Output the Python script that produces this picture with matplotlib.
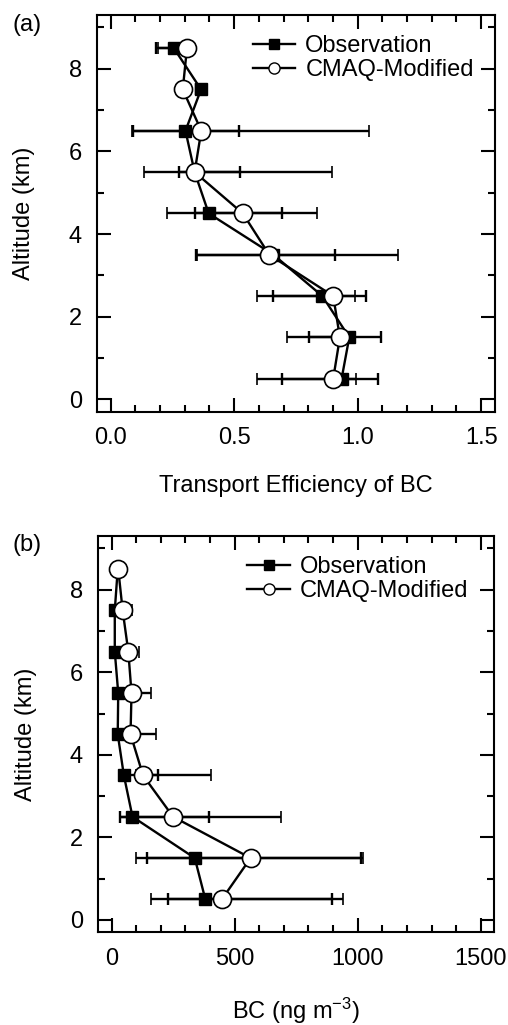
import matplotlib
matplotlib.use('Agg')
import matplotlib.pyplot as plt
from matplotlib.lines import Line2D
from matplotlib.ticker import MultipleLocator
import numpy as np

plt.rcParams['font.family'] = ['Liberation Sans', 'DejaVu Sans']
plt.rcParams['font.size'] = 17
plt.rcParams['mathtext.fontset'] = 'custom'
plt.rcParams['mathtext.rm'] = 'Liberation Sans'
plt.rcParams['mathtext.it'] = 'Liberation Sans:italic'

altitude = [0.5, 1.5, 2.5, 3.5, 4.5, 5.5, 6.5, 7.5, 8.5]

# (a) transport efficiency
obs_a = [0.935, 0.966, 0.857, 0.659, 0.397, 0.340, 0.303, 0.366, 0.256]
obs_a_lo = [0.693, 0.804, 0.659, 0.347, 0.340, 0.278, 0.090, 0.346, 0.184]
obs_a_hi = [1.083, 1.096, 1.033, 0.908, 0.693, 0.525, 0.518, 0.386, 0.330]
mod_a = [0.901, 0.928, 0.901, 0.642, 0.535, 0.340, 0.367, 0.292, 0.309]
mod_a_lo = [0.592, 0.713, 0.592, 0.350, 0.229, 0.135, 0.085, 0.280, 0.192]
mod_a_hi = [0.995, 0.989, 0.989, 1.164, 0.837, 0.895, 1.047, 0.300, 0.330]

# (b) BC concentration
obs_b = [381, 338, 85, 50, 25, 27, 13, 13, 25]
obs_b_lo = [229, 144, 36, 36, 15, 15, 5, 0, 20]
obs_b_hi = [896, 1013, 396, 189, 35, 40, 20, 28, 30]
mod_b = [448, 565, 250, 128, 77, 81, 68, 45, 27]
mod_b_lo = [162, 101, 36, 100, 50, 50, 40, 20, 20]
mod_b_hi = [939, 1023, 689, 405, 182, 159, 111, 81, 34]

fig = plt.figure(figsize=(5.08, 10.25), dpi=100)
ax1 = fig.add_axes([0.191, 0.5983, 0.783, 0.387])
ax2 = fig.add_axes([0.193, 0.0904, 0.780, 0.3866])


def draw(ax, obs, olo, ohi, mod, mlo, mhi):
    obs = np.array(obs, float)
    mod = np.array(mod, float)
    ax.errorbar(obs, altitude, xerr=[obs - np.array(olo), np.array(ohi) - obs],
                fmt='-s', color='black', ms=8.5, lw=1.7, elinewidth=1.7,
                capsize=4, capthick=1.7, zorder=2)
    ax.errorbar(mod, altitude, xerr=[mod - np.array(mlo), np.array(mhi) - mod],
                fmt='-o', color='black', mfc='white', mec='black', mew=1.2,
                ms=13, lw=1.7, elinewidth=1.7, capsize=4, capthick=1.7, zorder=3)


draw(ax1, obs_a, obs_a_lo, obs_a_hi, mod_a, mod_a_lo, mod_a_hi)
draw(ax2, obs_b, obs_b_lo, obs_b_hi, mod_b, mod_b_lo, mod_b_hi)

ax1.set_xlim(-0.055, 1.555)
ax1.xaxis.set_minor_locator(MultipleLocator(0.1))
ax1.set_xticks([0, 0.5, 1.0, 1.5], ['0.0', '0.5', '1.0', '1.5'])
ax1.set_xlabel('Transport Efficiency of BC')

ax2.set_xlim(-55, 1555)
ax2.xaxis.set_major_locator(MultipleLocator(500))
ax2.xaxis.set_minor_locator(MultipleLocator(100))
ax2.set_xlabel('BC (ng m$^{-3}$)')

handles = [Line2D([], [], color='black', marker='s', ms=6.5, lw=1.7),
           Line2D([], [], color='black', marker='o', ms=8, mfc='white', lw=1.7)]
labels = ['Observation', 'CMAQ-Modified']

for ax, lx in [(ax1, 0.392), (ax2, 0.377)]:
    ax.set_ylim(-0.3, 9.3)
    ax.yaxis.set_major_locator(MultipleLocator(2))
    ax.yaxis.set_minor_locator(MultipleLocator(1))
    ax.set_ylabel('Altitude (km)')
    ax.tick_params(which='both', direction='in', top=True, right=True, width=1.5, pad=11)
    ax.tick_params(which='major', length=10)
    ax.tick_params(which='minor', length=5)
    for s in ax.spines.values():
        s.set_linewidth(1.5)
    ax.xaxis.set_label_coords(0.5, -0.16)
    ax.yaxis.set_label_coords(-0.155, 0.5)
    ax.legend(handles, labels, loc='upper left', bbox_to_anchor=(lx, 0.95),
              frameon=False, borderpad=0, borderaxespad=0, handlelength=1.8,
              handletextpad=0.42, labelspacing=0.1)

fig.text(13 / 508, 1 - 25 / 1025, '(a)', ha='left', va='center')
fig.text(13 / 508, 1 - 545 / 1025, '(b)', ha='left', va='center')

fig.savefig('out.png', dpi=100)
